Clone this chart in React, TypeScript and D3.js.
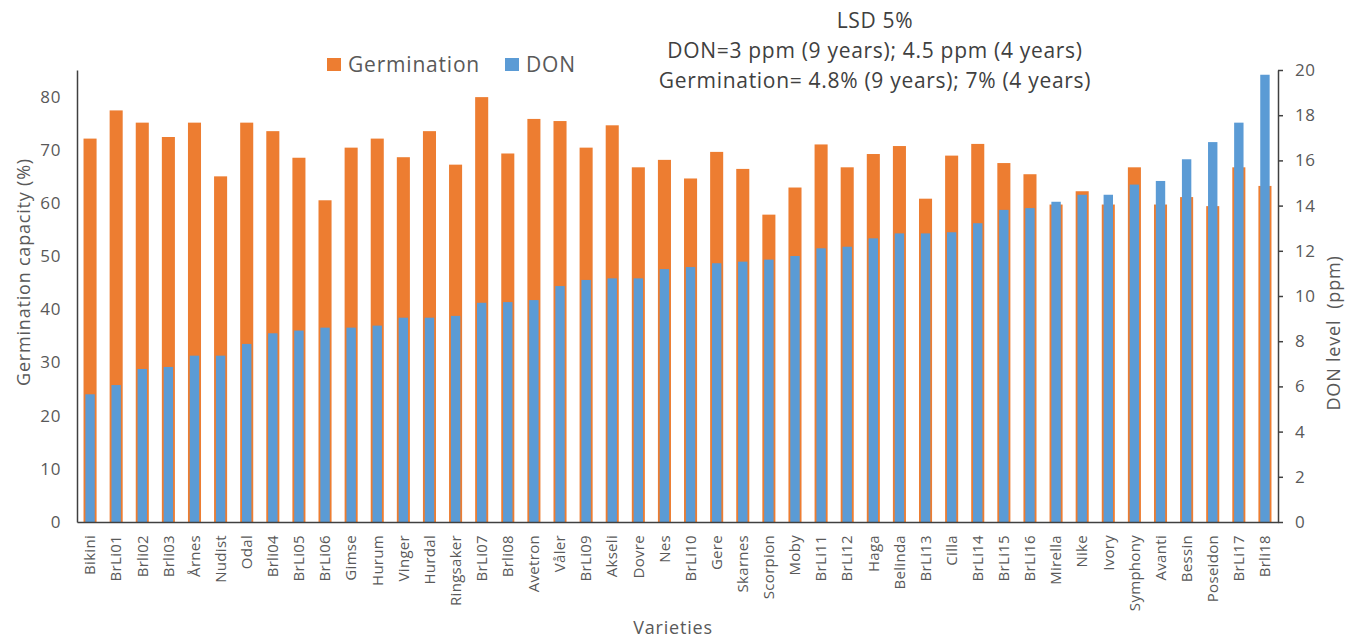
import { useEffect, useRef } from "react";
import * as d3 from "d3";

const WIDTH = 1346;
const HEIGHT = 639;
const PLOT = { left: 77, right: 1278, top: 70, bottom: 522 };
const ORANGE = "#ED7D31";
const BLUE = "#5B9BD5";
const TEXT = "#595959";
const FONT = "'Open Sans', 'Noto Sans', sans-serif";

const varieties = [
  "Bikini", "BrLi01", "Brli02", "Brli03", "Årnes", "Nudist", "Odal", "Brli04", "BrLi05", "BrLi06",
  "Gimse", "Hurum", "Vinger", "Hurdal", "Ringsaker", "BrLi07", "Brli08", "Avetron", "Våler", "BrLi09",
  "Akseli", "Dovre", "Nes", "BrLi10", "Gere", "Skarnes", "Scorpion", "Moby", "BrLi11", "BrLi12",
  "Haga", "Belinda", "BrLi13", "Cilla", "BrLi14", "BrLi15", "BrLi16", "Mirella", "Nike", "Ivory",
  "Symphony", "Avanti", "Bessin", "Poseidon", "BrLi17", "Brli18",
];

// germination capacity (%), left axis
const germination = [
  72.1, 77.4, 75.1, 72.4, 75.1, 65.0, 75.1, 73.5, 68.5, 60.5,
  70.4, 72.1, 68.6, 73.5, 67.2, 79.9, 69.3, 75.8, 75.4, 70.4,
  74.6, 66.7, 68.1, 64.6, 69.6, 66.4, 57.8, 62.9, 71.0, 66.7,
  69.2, 70.7, 60.8, 68.9, 71.1, 67.5, 65.4, 59.7, 62.2, 59.7,
  66.7, 59.7, 61.1, 59.4, 66.7, 63.2,
];

// DON level (ppm), right axis
const don = [
  5.65, 6.06, 6.77, 6.86, 7.36, 7.36, 7.88, 8.35, 8.47, 8.6,
  8.6, 8.69, 9.04, 9.04, 9.12, 9.7, 9.73, 9.82, 10.44, 10.71,
  10.78, 10.78, 11.19, 11.28, 11.45, 11.52, 11.61, 11.77, 12.11, 12.18,
  12.55, 12.77, 12.77, 12.82, 13.22, 13.81, 13.89, 14.17, 14.48, 14.48,
  14.93, 15.09, 16.05, 16.81, 17.67, 19.79,
];

const leftTicks = [0, 10, 20, 30, 40, 50, 60, 70, 80];
const rightTicks = [0, 2, 4, 6, 8, 10, 12, 14, 16, 18, 20];
const titleLines = [
  "LSD 5%",
  "DON=3 ppm (9 years); 4.5 ppm (4 years)",
  "Germination= 4.8% (9 years); 7% (4 years)",
];

export default function App() {
  const ref = useRef<SVGSVGElement>(null);

  useEffect(() => {
    if (!ref.current) return;
    const svg = d3.select(ref.current);
    svg.selectAll("*").remove();

    const x = d3.scaleBand().domain(varieties).range([PLOT.left, PLOT.right]);
    const yLeft = d3.scaleLinear().domain([0, 85]).range([PLOT.bottom, PLOT.top]);
    const yRight = d3.scaleLinear().domain([0, 20]).range([PLOT.bottom, PLOT.top]);
    const bw = x.bandwidth();

    // germination bars (behind)
    svg.append("g")
      .selectAll("rect")
      .data(varieties)
      .join("rect")
      .attr("x", (d) => x(d)! + bw * 0.25)
      .attr("width", bw * 0.5)
      .attr("y", (_, i) => yLeft(germination[i]))
      .attr("height", (_, i) => PLOT.bottom - yLeft(germination[i]))
      .attr("fill", ORANGE);

    // DON bars (front)
    svg.append("g")
      .selectAll("rect")
      .data(varieties)
      .join("rect")
      .attr("x", (d) => x(d)! + bw * 0.32)
      .attr("width", bw * 0.36)
      .attr("y", (_, i) => yRight(don[i]))
      .attr("height", (_, i) => PLOT.bottom - yRight(don[i]))
      .attr("fill", BLUE);

    // left axis
    const left = svg.append("g").attr("transform", `translate(${PLOT.left},0)`)
      .call(d3.axisLeft(yLeft).tickValues(leftTicks).tickSize(0).tickPadding(16));
    left.select(".domain").attr("stroke", "#404040").attr("stroke-width", 1.5);

    // right axis
    const right = svg.append("g").attr("transform", `translate(${PLOT.right},0)`)
      .call(d3.axisRight(yRight).tickValues(rightTicks).tickSize(5).tickSizeOuter(0).tickPadding(12));
    right.select(".domain").attr("stroke", "#404040").attr("stroke-width", 1.5);
    right.selectAll(".tick line").attr("stroke", "#404040").attr("stroke-width", 1.5);

    // bottom axis
    const bottom = svg.append("g").attr("transform", `translate(0,${PLOT.bottom})`)
      .call(d3.axisBottom(x).tickSize(0).tickSizeOuter(0));
    bottom.select(".domain").attr("stroke", "#404040").attr("stroke-width", 1.5);
    bottom.selectAll<SVGTextElement, string>(".tick text")
      .attr("transform", "rotate(-90)")
      .attr("text-anchor", "end")
      .attr("x", -13)
      .attr("y", 0)
      .attr("dy", "0.35em")
      .attr("font-size", 15)
      .attr("letter-spacing", 0.3);

    svg.selectAll(".tick text").attr("fill", TEXT).attr("font-family", FONT);
    left.selectAll(".tick text").attr("font-size", 17).attr("letter-spacing", 0.6);
    right.selectAll(".tick text").attr("font-size", 17).attr("letter-spacing", 0.6);

    // axis titles
    svg.append("text")
      .attr("transform", "translate(30,272) rotate(-90)")
      .attr("text-anchor", "middle")
      .attr("font-size", 18)
      .attr("letter-spacing", 0.8)
      .attr("font-family", FONT)
      .attr("fill", TEXT)
      .text("Germination capacity (%)");

    svg.append("text")
      .attr("transform", "translate(1340,333) rotate(-90)")
      .attr("text-anchor", "middle")
      .attr("font-size", 18)
      .attr("letter-spacing", 0.8)
      .attr("font-family", FONT)
      .attr("fill", TEXT)
      .attr("xml:space", "preserve")
      .text("DON level  (ppm)");

    svg.append("text")
      .attr("x", 673)
      .attr("y", 634)
      .attr("text-anchor", "middle")
      .attr("font-size", 18)
      .attr("letter-spacing", 0.8)
      .attr("font-family", FONT)
      .attr("fill", TEXT)
      .text("Varieties");

    // legend
    const legend = svg.append("g")
      .attr("font-family", FONT)
      .attr("font-size", 21)
      .attr("letter-spacing", 0.8)
      .attr("fill", TEXT);
    const items = [
      { label: "Germination", color: ORANGE, x: 327 },
      { label: "DON", color: BLUE, x: 505 },
    ];
    items.forEach((it) => {
      legend.append("rect").attr("x", it.x).attr("y", 58).attr("width", 14).attr("height", 13).attr("fill", it.color);
      legend.append("text").attr("x", it.x + 21).attr("y", 72).text(it.label);
    });

    // LSD annotation
    svg.append("g")
      .selectAll("text")
      .data(titleLines)
      .join("text")
      .attr("x", 875)
      .attr("y", (_, i) => 28 + i * 30)
      .attr("text-anchor", "middle")
      .attr("font-size", 21)
      .attr("letter-spacing", 0.7)
      .attr("font-family", FONT)
      .attr("fill", "#404040")
      .text((d) => d);
  }, []);

  return (
    <svg
      ref={ref}
      width={WIDTH}
      height={HEIGHT}
      style={{ position: "absolute", left: 0, top: 0, background: "#fff" }}
    />
  );
}
